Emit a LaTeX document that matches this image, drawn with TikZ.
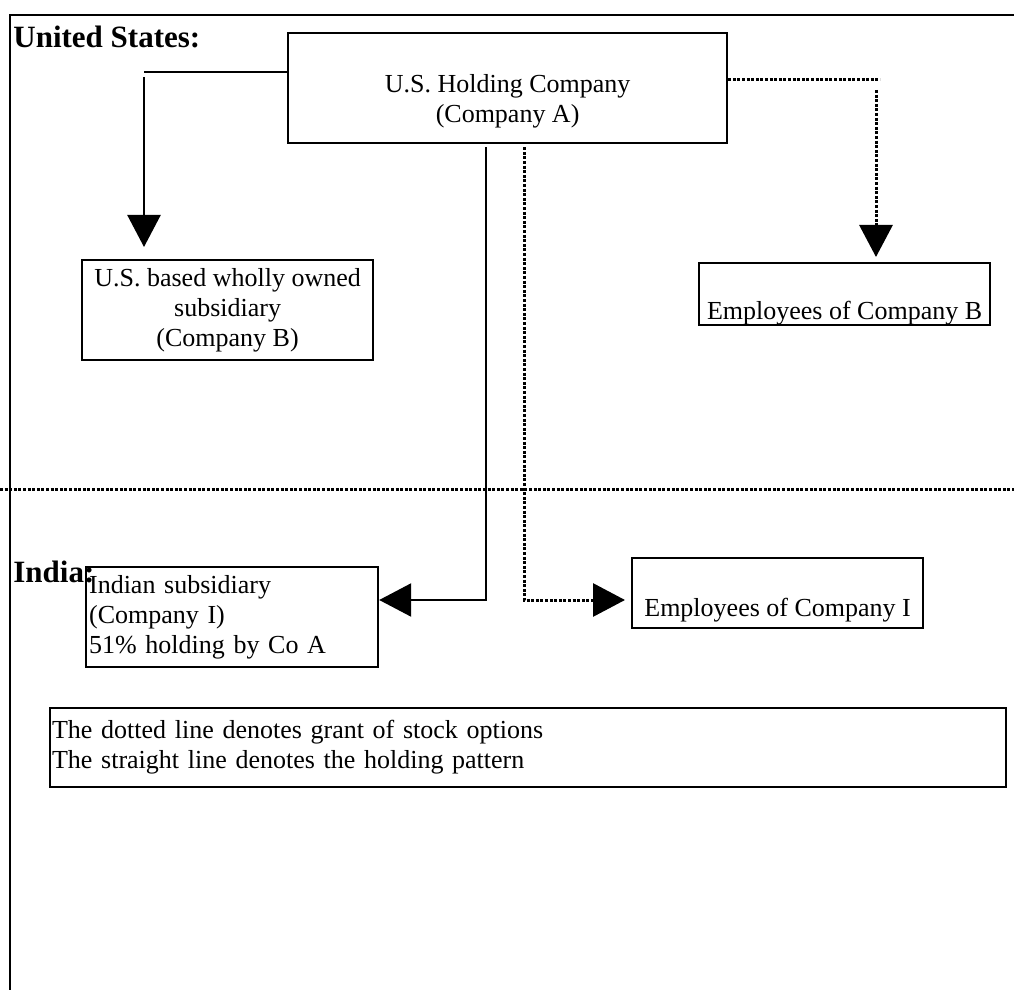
\documentclass[tikz,border=0pt]{standalone}
\usepackage{fontspec}
\setmainfont{Liberation Serif}
\usetikzlibrary{arrows.meta}

\begin{document}
\begin{tikzpicture}[x=0.5pt,y=-0.5pt,
  every node/.style={font=\fontsize{13pt}{15pt}\selectfont},
  box/.style={draw,line width=1.1pt,anchor=north west,inner sep=2pt},
  heading/.style={font=\fontsize{15.5pt}{18pt}\selectfont\bfseries,anchor=base west,inner sep=0pt},
  hold/.style={line width=1.2pt},
  grant/.style={line width=1.5pt,dash pattern=on 1.5pt off 0.8pt},
  tip/.style={-{Triangle[width=16.5pt,length=16pt]}}]
\useasboundingbox (0,0) rectangle (1014,990);
\clip (0,0) rectangle (1014,990);
\draw [line width=1.1pt] (10,15) rectangle (1040,1020);
\draw [grant] (0,489) -- (1014,489);
\node [heading] (us) at (13,48) {United States:};
\node [heading] (in) at (13,582) {India:};
\node [box,align=center,minimum width=219.5pt,minimum height=55pt] (A) at (287,32)
  {\mbox{}\\[7pt]U.S. Holding Company\\(Company A)};
\node [box,align=center,minimum width=145.5pt,minimum height=50pt] (B) at (81,259)
  {U.S. based wholly owned\\subsidiary\\(Company B)};
\node [box,inner xsep=2.5pt,inner ysep=0pt,text height=28pt,text depth=3pt,minimum width=145.5pt] (EB) at (698,262)
  {Employees of Company B};
\node [box,align=left,text width=143pt,inner xsep=1.5pt,minimum height=50pt] (I) at (85,566)
  {Indian subsidiary\\(Company I)\\51\% holding by Co A};
\node [box,inner ysep=0pt,text height=29pt,text depth=6pt,minimum width=145.5pt] (EI) at (631,557)
  {Employees of Company I};
\node [box,align=left,text width=476pt,inner xsep=1pt,minimum height=39.5pt] (key) at (49,707)
  {The dotted line denotes grant of stock options\\The straight line denotes the holding pattern};
\coordinate (jB) at (144,72);
\coordinate (jBd) at (144,77);
\coordinate (jE) at (880,80);
\coordinate (jEd) at (876,90);
\coordinate (jI) at (486,600);
\coordinate (jF) at (524,600);
\draw [hold] (A.west |- jB) -- (jB);
\draw [hold,tip,shorten >=6pt] (jBd) -- (jBd |- B.north);
\draw [grant] (A.east |- jE) -- (jE);
\draw [grant,tip,shorten >=2.5pt] (jEd) -- (jEd |- EB.north);
\draw [hold,tip] ([yshift=-1.5pt]A.south -| jI) -- (jI) -- (jI -| I.east);
\draw [grant,tip,shorten >=3pt] ([yshift=-1.5pt]A.south -| jF) -- (jF) -- (jF -| EI.west);
\end{tikzpicture}
\end{document}
